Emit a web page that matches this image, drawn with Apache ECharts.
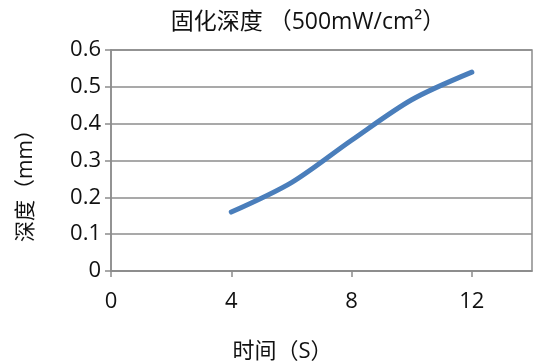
<!DOCTYPE html>
<html>
<head>
<meta charset="utf-8">
<script src="https://cdn.jsdelivr.net/npm/echarts@6/dist/echarts.min.js"></script>
<style>
  html, body { margin: 0; padding: 0; background: #fff; }
  #chart { width: 533px; height: 361px; }
</style>
</head>
<body>
<div id="chart"></div>
<script>
// time (s) and cure depth (mm)
const times = [4, 6, 8, 10, 12]
const depths = [0.16, 0.24, 0.355, 0.465, 0.54]
const xTicks = [0, 4, 8, 12]
const yTicks = [0, 0.1, 0.2, 0.3, 0.4, 0.5, 0.6]

const font = '"Open Sans", "Noto Sans CJK SC", sans-serif'
const gray = '#8c8c8c'

const chart = echarts.init(document.getElementById('chart'))
chart.setOption({
  animation: false,
  title: {
    text: '固化深度 （500mW/cm²）',
    left: 303,
    textAlign: 'center',
    top: 6,
    textStyle: { fontFamily: font, fontSize: 23, fontWeight: 'normal', color: '#111' }
  },
  grid: {
    left: 111,
    right: 1,
    top: 50,
    bottom: 90,
    outerBoundsMode: 'none',
    show: true,
    borderColor: gray,
    borderWidth: 1.5
  },
  xAxis: {
    type: 'value',
    min: xTicks[0],
    max: 14,
    interval: 4,
    name: '时间（S）',
    nameLocation: 'middle',
    nameGap: 70,
    nameTextStyle: { fontFamily: font, fontSize: 22, color: '#111', padding: [0, 78, 0, 0] },
    axisLine: { lineStyle: { color: gray, width: 1.5 } },
    axisTick: { show: true, length: 6, lineStyle: { color: gray, width: 1.5 } },
    axisLabel: { showMaxLabel: false, fontFamily: font, fontSize: 22, color: '#111', margin: 20 },
    splitLine: { show: false }
  },
  yAxis: {
    type: 'value',
    min: yTicks[0],
    max: yTicks[yTicks.length - 1],
    interval: 0.1,
    name: '深度（mm）',
    nameLocation: 'middle',
    nameGap: 74,
    nameTextStyle: { fontFamily: font, fontSize: 21, color: '#111', padding: [0, 40, 0, 0] },
    axisLine: { show: true, lineStyle: { color: gray, width: 1.5 } },
    axisTick: { show: true, inside: false, length: 6, lineStyle: { color: gray, width: 1.5 } },
    axisLabel: {
      fontFamily: font, fontSize: 22, color: '#111', margin: 10,
      formatter: v => (v === 0 ? '0' : v.toFixed(1))
    },
    splitLine: { lineStyle: { color: gray, width: 1.5 } }
  },
  series: [{
    type: 'line',
    data: times.map((t, i) => [t, depths[i]]),
    smooth: 0.3,
    symbol: 'none',
    lineStyle: { color: '#4a7ebb', width: 5, cap: 'round' }
  }]
})
</script>
</body>
</html>
